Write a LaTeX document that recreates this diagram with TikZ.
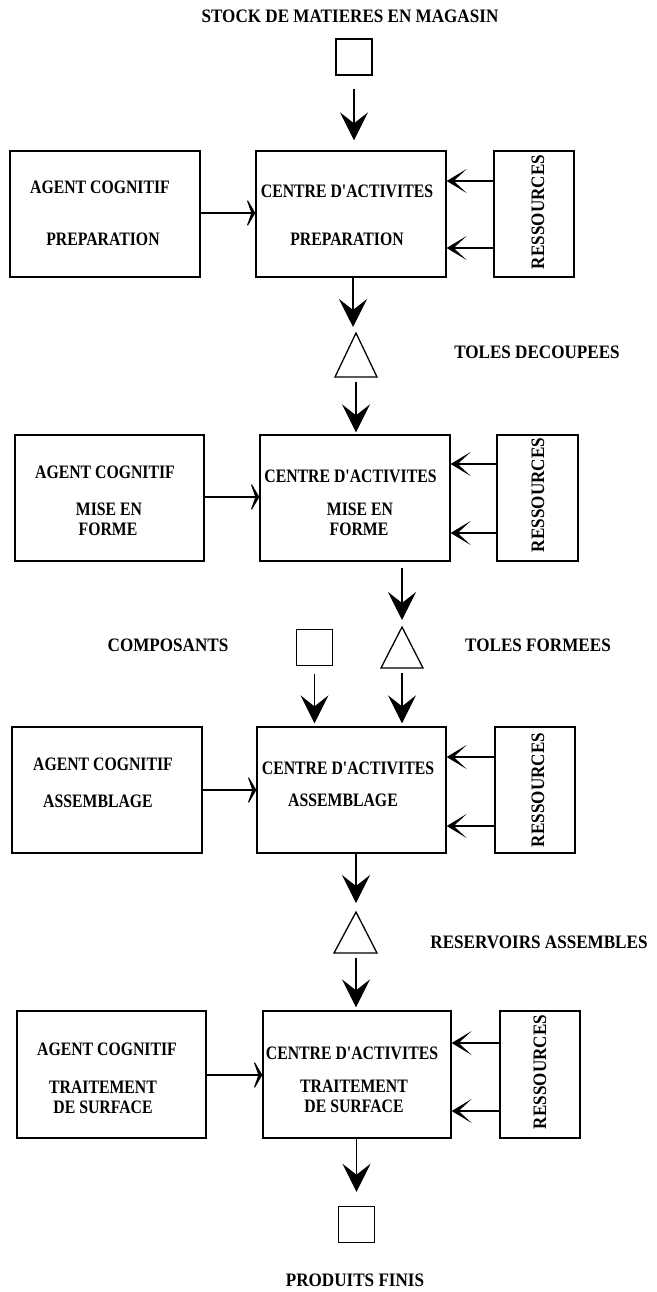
\documentclass[tikz,border=0pt]{standalone}
\usepackage{fontspec}
\newfontfamily\boxf{Liberation Serif}[FakeStretch=0.83]
\newfontfamily\labf{Liberation Serif}[FakeStretch=0.9]
\usetikzlibrary{arrows.meta}
\begin{document}
\begin{tikzpicture}[x=1pt,y=-1pt,
  box/.style={draw, line width=1.3pt, inner sep=0pt},
  txt/.style={inner sep=0pt, font=\boxf\bfseries\fontsize{19}{20}\selectfont},
  lab/.style={inner sep=0pt, font=\labf\bfseries\fontsize{19}{20}\selectfont},
  restxt/.style={inner sep=0pt, rotate=90, font=\labf\bfseries\fontsize{19}{20}\selectfont},
  stock/.style={draw, line width=1.5pt, minimum width=36pt, minimum height=36pt, inner sep=0pt},
  tri/.style={draw, line width=1.3pt, line join=miter},
  flow/.style={line width=1.4pt, -{Stealth[length=28pt,width=28pt,inset=11pt]}},
  resarr/.style={line width=1.3pt, -{Stealth[length=20pt,width=24pt,inset=13pt]}},
  agarr/.style={line width=1.3pt, -{Stealth[length=10pt,width=34pt,inset=6pt]}},
]
\useasboundingbox (0,0) rectangle (656,1292);
\fill[white] (0,0) rectangle (656,1292);

% ---------- top stock
\node[lab] (title) at (350,16) {STOCK DE MATIERES EN MAGASIN};
\node[stock] (s0) at (354,57) {};

% ---------- row 1
\node[box, minimum width=190pt, minimum height=126pt] (a1) at (105,214) {};
\node[box, minimum width=190pt, minimum height=126pt] (c1) at (351,214) {};
\node[box, minimum width=80pt, minimum height=126pt] (r1) at (534,214) {};
\node[txt] (a1t1) at (100,187) {AGENT COGNITIF};
\node[txt] (a1t2) at (103,239) {PREPARATION};
\node[txt] (c1t1) at (347,191) {CENTRE D'ACTIVITES};
\node[txt] (c1t2) at (347,239) {PREPARATION};
\node[restxt] (r1t) at (538,212) {RESSOURCES};

% ---------- triangle 1
\coordinate (t1a) at (356,333);
\coordinate (t1b) at (356,377);
\draw[tri] (335,377) -- (t1a) -- (377,377) -- cycle;
\node[lab] (lab1) at (537,352) {TOLES DECOUPEES};

% ---------- row 2
\node[box, minimum width=189pt, minimum height=126pt] (a2) at (109.5,498) {};
\node[box, minimum width=190pt, minimum height=126pt] (c2) at (355,498) {};
\node[box, minimum width=81pt, minimum height=126pt] (r2) at (537.5,498) {};
\node[txt] (a2t1) at (105,472) {AGENT COGNITIF};
\node[txt] (a2t2) at (109,509) {MISE EN};
\node[txt] (a2t3) at (108,529) {FORME};
\node[txt] (c2t1) at (350.5,476) {CENTRE D'ACTIVITES};
\node[txt] (c2t2) at (360,509) {MISE EN};
\node[txt] (c2t3) at (359,529) {FORME};
\node[restxt] (r2t) at (538,495) {RESSOURCES};

% ---------- inputs of row 3
\node[stock] (s2) at (314.5,647.5) {};
\coordinate (t2a) at (402,627);
\coordinate (t2b) at (402,668);
\draw[tri] (381,668) -- (t2a) -- (423,668) -- cycle;
\node[lab] (lab2a) at (168,645) {COMPOSANTS};
\node[lab] (lab2b) at (538,645) {TOLES FORMEES};

% ---------- row 3
\node[box, minimum width=190pt, minimum height=126pt] (a3) at (107,790) {};
\node[box, minimum width=189pt, minimum height=126pt] (c3) at (351.5,790) {};
\node[box, minimum width=80pt, minimum height=126pt] (r3) at (535,790) {};
\node[txt] (a3t1) at (103,764) {AGENT COGNITIF};
\node[txt] (a3t2) at (98,801) {ASSEMBLAGE};
\node[txt] (c3t1) at (348,768) {CENTRE D'ACTIVITES};
\node[txt] (c3t2) at (343,800) {ASSEMBLAGE};
\node[restxt] (r3t) at (538,790) {RESSOURCES};

% ---------- triangle 3
\coordinate (t3a) at (356,912);
\coordinate (t3b) at (356,953);
\draw[tri] (334,953) -- (t3a) -- (377,953) -- cycle;
\node[lab] (lab3) at (539,942) {RESERVOIRS ASSEMBLES};

% ---------- row 4
\node[box, minimum width=189pt, minimum height=127pt] (a4) at (111.5,1074.5) {};
\node[box, minimum width=188pt, minimum height=127pt] (c4) at (357,1074.5) {};
\node[box, minimum width=80pt, minimum height=127pt] (r4) at (540,1074.5) {};
\node[txt] (a4t1) at (107,1049) {AGENT COGNITIF};
\node[txt] (a4t2) at (103,1087) {TRAITEMENT};
\node[txt] (a4t3) at (103,1107) {DE SURFACE};
\node[txt] (c4t1) at (352,1053) {CENTRE D'ACTIVITES};
\node[txt] (c4t2) at (354,1086) {TRAITEMENT};
\node[txt] (c4t3) at (354,1106) {DE SURFACE};
\node[restxt] (r4t) at (540,1072) {RESSOURCES};

% ---------- output
\node[stock] (s4) at (356.5,1224.5) {};
\node[lab] (lab4) at (355,1280) {PRODUITS FINIS};

% ---------- vertical flows
\draw[flow, shorten <=13pt, shorten >=10pt] (s0.south) -- (s0.south |- c1.north);
\draw[flow, shorten >=6pt] (c1.south -| 353,0) -- (353,333);
\draw[flow, shorten <=5pt, shorten >=2pt] (t1b) -- (t1b |- c2.north);
\draw[flow, shorten <=6pt, shorten >=7pt] (c2.south -| t2a) -- (t2a);
\draw[flow, shorten <=8pt, shorten >=3pt] (s2.south) -- (s2.south |- c3.north);
\draw[flow, shorten <=5pt, shorten >=3pt] (t2b) -- (t2b |- c3.north);
\draw[flow, shorten >=9pt] (c3.south -| t3a) -- (t3a);
\draw[flow, shorten <=5pt, shorten >=3pt] (t3b) -- (t3b |- c4.north);
\draw[flow, shorten >=14pt] (c4.south -| s4.north) -- (s4.north);

% ---------- resources arrows
\foreach \r/\c/\ya/\yb in {r1/c1/181/248, r2/c2/464/533, r3/c3/757/826, r4/c4/1043/1111}{
  \draw[resarr] (\r.west |- 0,\ya) -- (\c.east |- 0,\ya);
  \draw[resarr] (\r.west |- 0,\yb) -- (\c.east |- 0,\yb);
}
% ---------- agent arrows
\foreach \a/\c/\y in {a1/c1/213, a2/c2/497, a3/c3/790, a4/c4/1075}{
  \draw[agarr] (\a.east |- 0,\y) -- (\c.west |- 0,\y);
}
\end{tikzpicture}
\end{document}
